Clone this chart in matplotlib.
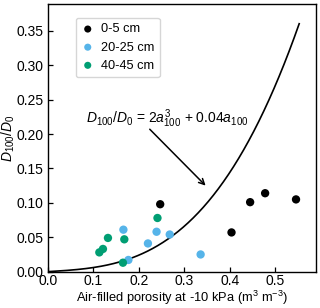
import numpy as np
import matplotlib
matplotlib.use("Agg")
import matplotlib.pyplot as plt

plt.rcParams['font.family'] = ['Liberation Sans', 'DejaVu Sans']
plt.rcParams['mathtext.fontset'] = 'custom'
plt.rcParams['mathtext.rm'] = 'Liberation Sans'
plt.rcParams['mathtext.it'] = 'Liberation Sans:italic'
plt.rcParams['mathtext.bf'] = 'Liberation Sans:bold'

x_0_5 = [0.247, 0.404, 0.445, 0.478, 0.546]
y_0_5 = [0.098, 0.057, 0.101, 0.114, 0.105]
x_20_25 = [0.166, 0.177, 0.220, 0.239, 0.268, 0.336]
y_20_25 = [0.061, 0.017, 0.041, 0.058, 0.054, 0.025]
x_40_45 = [0.113, 0.121, 0.132, 0.168, 0.165, 0.241]
y_40_45 = [0.028, 0.033, 0.049, 0.047, 0.013, 0.078]
labels = ['0-5 cm', '20-25 cm', '40-45 cm']
colors = ['black', '#56B4E9', '#009E73']

fig = plt.figure(figsize=(3.2, 3.08), dpi=100)
ax = fig.add_axes([0.15, 0.118, 0.8375, 0.869])

a = np.linspace(0, 0.553, 200)
ax.plot(a, 2 * a**3 + 0.04 * a, color='black', lw=1.2, zorder=2)

for xs, ys, lab, c in zip([x_0_5, x_20_25, x_40_45], [y_0_5, y_20_25, y_40_45], labels, colors):
    ax.scatter(xs, ys, s=36, color=c, label=lab, zorder=3, edgecolors='none')

ax.text(0.263, 0.222, r'$D_{100}/D_0$ = 2$a_{100}^3$ + 0.04$a_{100}$',
        ha='center', va='center', fontsize=10)
ax.annotate('', xy=(0.347, 0.125), xytext=(0.224, 0.207),
            arrowprops=dict(arrowstyle='->', color='black', lw=1.1, shrinkA=0, shrinkB=0))

ax.set_xlim(0, 0.59)
ax.set_ylim(0, 0.389)
ax.set_xticks([0.0, 0.1, 0.2, 0.3, 0.4, 0.5])
ax.set_yticks([0.0, 0.05, 0.10, 0.15, 0.20, 0.25, 0.30, 0.35])
ax.set_xticklabels(['0.0', '0.1', '0.2', '0.3', '0.4', '0.5'])
ax.set_yticklabels(['0.00', '0.05', '0.10', '0.15', '0.20', '0.25', '0.30', '0.35'])
ax.tick_params(direction='in', labelsize=10, length=3.5, width=0.9, pad=3)
ax.tick_params(axis='x', pad=1.5)
ax.set_xlabel(r'Air-filled porosity at -10 kPa (m$^3$ m$^{-3}$)', fontsize=9.3, labelpad=0.5)
ax.set_ylabel(r'$D_{100}/D_0$', fontsize=10, labelpad=0)
for s in ax.spines.values():
    s.set_linewidth(1.0)

leg = ax.legend(loc='upper left', bbox_to_anchor=(0.103, 0.949), borderaxespad=0, fontsize=9.2,
                handletextpad=0.5, borderpad=0.45, labelspacing=0.48, handlelength=1.0,
                frameon=True, fancybox=True, markerscale=0.85)
leg.get_frame().set_edgecolor('#cccccc')

fig.savefig('out.png', dpi=100)
